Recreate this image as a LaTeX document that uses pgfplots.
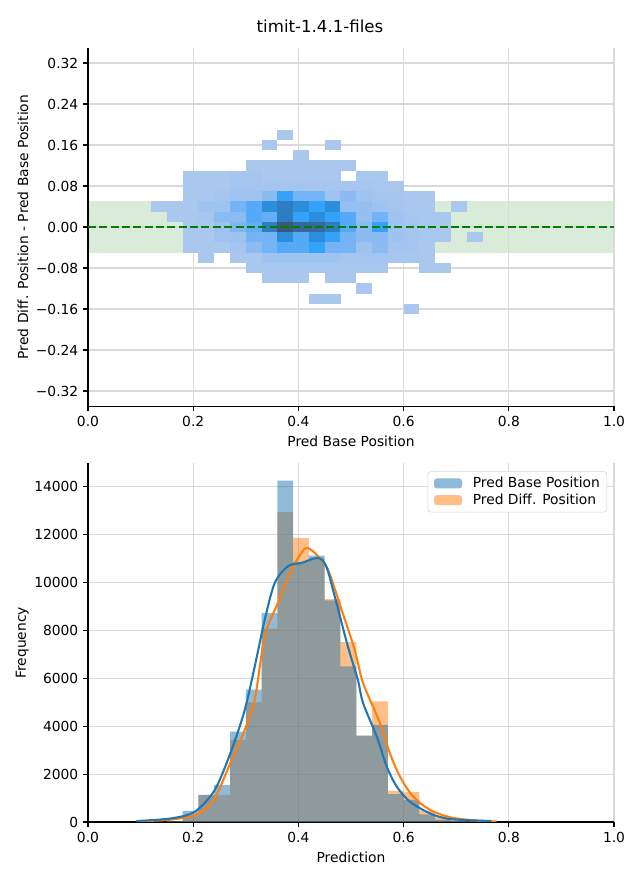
\documentclass[border=0pt]{standalone}
\usepackage{fontspec}
\setmainfont{DejaVu Sans}
\usepackage{pgfplots}
\pgfplotsset{compat=1.18}

\definecolor{c0}{HTML}{1F77B4}
\definecolor{c1}{HTML}{FF7F0E}
\definecolor{band}{HTML}{D9EBD9}
\definecolor{mplgreen}{HTML}{008000}

% one heatmap cell: 0.03 x 0.02 in data units
\pgfdeclareplotmark{cell}{%
  \pgfpathrectangle{\pgfpoint{-0.0792in}{-0.0515in}}{\pgfpoint{0.1584in}{0.1030in}}%
  \pgfusepathqfill}

\pgfplotsset{
  mplstyle/.style={
    scale only axis, width=5.26in, anchor=south west,
    xmin=0, xmax=1,
    axis x line*=bottom, axis y line*=left,
    axis line style={-, line width=0.8pt},
    tick align=outside, major tick length=3.5pt,
    tick style={line width=0.8pt, black},
    grid=major, grid style={gray!30, line width=0.8pt},
    xtick={0,0.2,0.4,0.6,0.8,1},
    xticklabels={0.0,0.2,0.4,0.6,0.8,1.0},
    /pgf/number format/assume math mode=true,
    tick label style={font=\fontsize{10}{12}\selectfont},
    label style={font=\fontsize{10}{12}\selectfont},
  }
}

\begin{document}
\begin{tikzpicture}
\useasboundingbox (0,0) rectangle (6.4in,8.8in);
\node[font=\fontsize{12}{14}\selectfont] at (3.2in,8.54in) {timit-1.4.1-files};

\begin{axis}[mplstyle, at={(0.88in,4.736in)}, height=3.5875in,
  ymin=-0.35, ymax=0.35, axis on top,
  ytick={-0.32,-0.24,-0.16,-0.08,0,0.08,0.16,0.24,0.32},
  yticklabels={−0.32,−0.24,−0.16,−0.08,0.00,0.08,0.16,0.24,0.32},
  xlabel={Pred Base Position},
  ylabel={Pred Diff. Position - Pred Base Position},
  ylabel style={yshift=-0.02in},
  colormap={hb}{rgb255=(170,200,238) rgb255=(158,195,240) rgb255=(140,187,242)
    rgb255=(116,179,245) rgb255=(85,170,248) rgb255=(53,162,250) rgb255=(43,142,220)
    rgb255=(46,124,194) rgb255=(54,104,156) rgb255=(60,88,120)},
  point meta min=1, point meta max=10]
  \addplot[draw=none, fill=band] coordinates {(0,-0.05) (1,-0.05) (1,0.05) (0,0.05)} -- cycle;
  \addplot[scatter, only marks, mark=cell, point meta=explicit,
    scatter/use mapped color={draw=none, fill=mapped color}] table[x=x, y=y, meta=c] {
x y c
0.375 0.18 1
0.345 0.16 1
0.465 0.16 1
0.405 0.14 1
0.315 0.12 1
0.345 0.12 1
0.375 0.12 1
0.405 0.12 1
0.435 0.12 1
0.465 0.12 1
0.495 0.12 1
0.195 0.10 1
0.225 0.10 1
0.255 0.10 1
0.285 0.10 1.5
0.315 0.10 1.5
0.345 0.10 1
0.375 0.10 1
0.405 0.10 1
0.435 0.10 1
0.465 0.10 1
0.525 0.10 1
0.555 0.10 1
0.195 0.08 1
0.225 0.08 1
0.255 0.08 1
0.285 0.08 1.5
0.315 0.08 1.5
0.345 0.08 1.5
0.375 0.08 1.5
0.405 0.08 1.5
0.435 0.08 1.3
0.465 0.08 1.3
0.495 0.08 1.3
0.525 0.08 1.3
0.555 0.08 1.2
0.585 0.08 1
0.195 0.06 1
0.225 0.06 1
0.255 0.06 1.5
0.285 0.06 2
0.315 0.06 2
0.345 0.06 3
0.375 0.06 6
0.405 0.06 4
0.435 0.06 4
0.465 0.06 2
0.495 0.06 3
0.525 0.06 2
0.555 0.06 1.5
0.585 0.06 1.3
0.615 0.06 1
0.645 0.06 1
0.135 0.04 1
0.165 0.04 1
0.195 0.04 1
0.225 0.04 2
0.255 0.04 2
0.285 0.04 4
0.315 0.04 5
0.345 0.04 7
0.375 0.04 8
0.405 0.04 7
0.435 0.04 6
0.465 0.04 7
0.495 0.04 2.5
0.525 0.04 2.5
0.555 0.04 2
0.585 0.04 1.5
0.615 0.04 1.2
0.645 0.04 1
0.705 0.04 1
0.165 0.02 1
0.195 0.02 1
0.225 0.02 1.3
0.255 0.02 3
0.285 0.02 3
0.315 0.02 5
0.345 0.02 4.5
0.375 0.02 8
0.405 0.02 6
0.435 0.02 7
0.465 0.02 6
0.495 0.02 5
0.525 0.02 2.5
0.555 0.02 4
0.585 0.02 2
0.615 0.02 1.3
0.645 0.02 1.2
0.675 0.02 1
0.195 0 1
0.225 0 1
0.255 0 2
0.285 0 3.5
0.315 0 4.5
0.345 0 8
0.375 0 10
0.405 0 9
0.435 0 9
0.465 0 8
0.495 0 5
0.525 0 3
0.555 0 6
0.585 0 2
0.615 0 1.5
0.645 0 1.2
0.675 0 1
0.195 -0.02 1
0.225 -0.02 1
0.255 -0.02 2
0.285 -0.02 2
0.315 -0.02 4
0.345 -0.02 4
0.375 -0.02 7
0.405 -0.02 5
0.435 -0.02 7
0.465 -0.02 6
0.495 -0.02 4
0.525 -0.02 3
0.555 -0.02 3
0.585 -0.02 2
0.615 -0.02 1.5
0.645 -0.02 1.2
0.675 -0.02 1
0.735 -0.02 1
0.195 -0.04 1
0.225 -0.04 1
0.255 -0.04 1
0.285 -0.04 1.5
0.315 -0.04 3
0.345 -0.04 4
0.375 -0.04 5
0.405 -0.04 5
0.435 -0.04 6
0.465 -0.04 4
0.495 -0.04 4
0.525 -0.04 2
0.555 -0.04 3
0.585 -0.04 1.5
0.615 -0.04 1.5
0.645 -0.04 1
0.225 -0.06 1
0.285 -0.06 1
0.315 -0.06 1
0.345 -0.06 2
0.375 -0.06 2
0.405 -0.06 2
0.435 -0.06 2
0.465 -0.06 2
0.495 -0.06 1.5
0.525 -0.06 1.5
0.555 -0.06 1.5
0.585 -0.06 1.2
0.615 -0.06 1.2
0.645 -0.06 1
0.315 -0.08 1.2
0.345 -0.08 1.2
0.375 -0.08 1.2
0.405 -0.08 1.2
0.435 -0.08 1.2
0.465 -0.08 1.2
0.495 -0.08 1.2
0.525 -0.08 1.2
0.555 -0.08 1.2
0.645 -0.08 1
0.675 -0.08 1
0.345 -0.10 1
0.375 -0.10 1
0.405 -0.10 1
0.465 -0.10 1
0.495 -0.10 1
0.525 -0.12 1
0.435 -0.14 1
0.465 -0.14 1
0.615 -0.16 1
  };
\end{axis}

% dashed zero line above the grid
\begin{axis}[scale only axis, width=5.26in, height=3.5875in, anchor=south west,
  at={(0.88in,4.736in)}, xmin=0, xmax=1, ymin=-0.35, ymax=0.35, hide axis]
  \addplot[mplgreen, line width=1.5pt, dash pattern=on 5.8pt off 2.4pt] coordinates {(0,0) (1,0)};
\end{axis}

\begin{axis}[mplstyle, at={(0.88in,0.58in)}, height=3.585in,
  ymin=0, ymax=14960,
  ytick={0,2000,4000,6000,8000,10000,12000,14000},
  scaled y ticks=false,
  yticklabel style={/pgf/number format/1000 sep={}},
  xlabel={Prediction}, ylabel={Frequency},
  ylabel style={yshift=-0.04in},
  reverse legend,
  legend style={at={(0.987,0.978)}, anchor=north east, draw=gray!35,
    rounded corners=2pt, font=\fontsize{10}{12}\selectfont, row sep=-1pt,
    inner xsep=3pt, inner ysep=2pt},
  legend cell align=left,
  legend image code/.code={\fill[#1] (0in,-0.05in) rectangle (0.28in,0.05in);
    \path (-0.02in,0) (0.36in,0);}]
  \addplot[ybar interval, fill=c1, fill opacity=0.5, draw=none] coordinates {
    (0.12,5) (0.15,30) (0.18,250) (0.21,1130) (0.24,1130) (0.27,3430)
    (0.30,4990) (0.33,8070) (0.36,12930) (0.39,11860) (0.42,11020)
    (0.45,9300) (0.48,7510) (0.51,3600) (0.54,5030) (0.57,1300)
    (0.60,1250) (0.63,470) (0.66,250) (0.69,80) (0.72,30) (0.75,30)};
  \addlegendentry{Pred Diff. Position}
  \addplot[ybar interval, fill=c0, fill opacity=0.5, draw=none] coordinates {
    (0.12,10) (0.15,40) (0.18,460) (0.21,1130) (0.24,1550) (0.27,3770)
    (0.30,5520) (0.33,8720) (0.36,14250) (0.39,10850) (0.42,11120)
    (0.45,9250) (0.48,6490) (0.51,3600) (0.54,4050) (0.57,1160)
    (0.60,920) (0.63,320) (0.66,100) (0.69,40) (0.72,10) (0.75,10)};
  \addlegendentry{Pred Base Position}
  \addplot[forget plot, c1, line width=1.5pt, smooth] coordinates {
    (0.095,30) (0.158,100) (0.209,330) (0.241,1000) (0.273,2590) (0.298,3850)
    (0.317,5100) (0.336,7750) (0.361,9140) (0.387,10530) (0.406,11230)
    (0.415,11440) (0.431,11230) (0.456,10530) (0.482,8860) (0.507,7190)
    (0.523,5800) (0.555,4130) (0.574,2870) (0.593,1900) (0.618,1065)
    (0.650,510) (0.688,200) (0.732,70) (0.777,20)};
  \addplot[forget plot, c0, line width=1.5pt, smooth] coordinates {
    (0.092,40) (0.158,150) (0.203,430) (0.241,1337) (0.273,3009) (0.298,4680)
    (0.317,6492) (0.336,8442) (0.355,9975) (0.380,10671) (0.406,10810)
    (0.437,11020) (0.453,10670) (0.469,9420) (0.494,7330) (0.513,5934)
    (0.523,4960) (0.549,3565) (0.568,2311) (0.587,1475) (0.612,850)
    (0.650,362) (0.688,125) (0.767,40)};
\end{axis}
\end{tikzpicture}
\end{document}
